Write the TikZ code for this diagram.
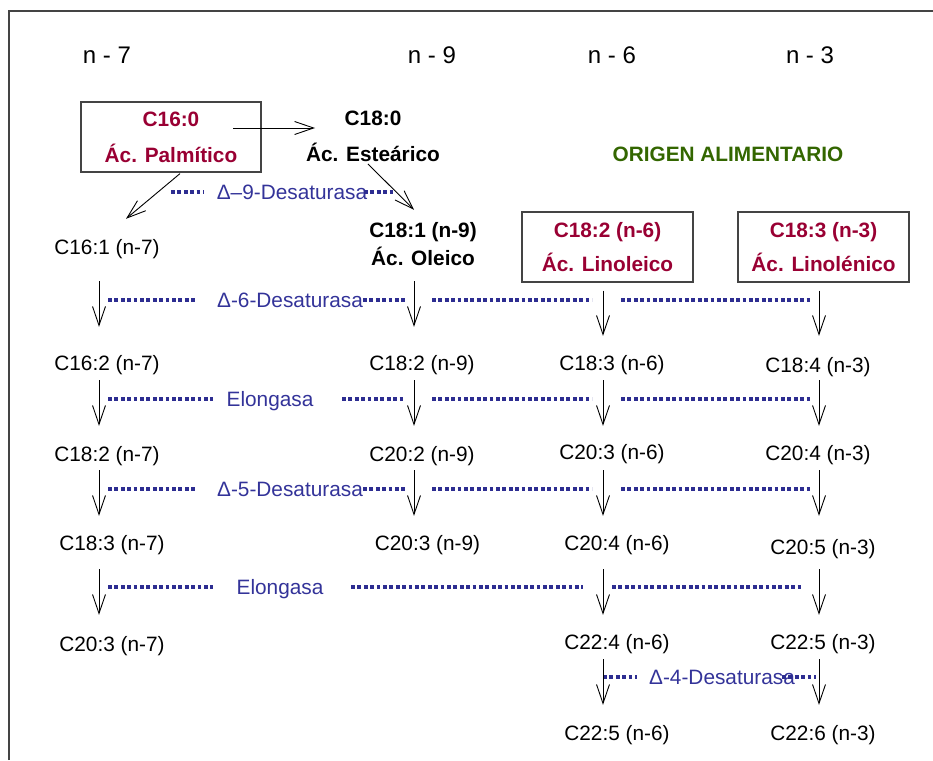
\documentclass[tikz,border=0pt]{standalone}
\usepackage{fontspec}
\setmainfont{Liberation Sans}
\usetikzlibrary{arrows.meta,calc}
\definecolor{acid}{RGB}{153,0,51}
\definecolor{origin}{RGB}{51,102,0}
\definecolor{enzyme}{RGB}{51,51,153}
\definecolor{dotblue}{RGB}{45,45,145}
\definecolor{framegray}{RGB}{68,68,68}

\begin{document}
\begin{tikzpicture}[x=1pt,y=-1pt,
  every node/.style={inner sep=0pt, font=\fontsize{20.8pt}{25pt}\selectfont},
  fa/.style={anchor=base, text height=15pt, text depth=4.5pt},
  hdr/.style={anchor=base, font=\fontsize{24pt}{28pt}\selectfont},
  enz/.style={anchor=base, text=enzyme},
  pair/.style={align=center, font=\fontsize{20.8pt}{#1}\selectfont\bfseries},
  srcbox/.style={draw=framegray, line width=1.2pt, align=center, text=acid,
    minimum height=70pt, font=\fontsize{20.8pt}{#1}\selectfont\bfseries},
  flow/.style={line width=0.9pt, -{Straight Barb[length=19pt,width=13pt]}},
  dots/.style={dotblue, line width=3.3pt, dash pattern=on 3.8pt off 2.6pt},
]
\useasboundingbox (0,0) rectangle (933,760);

% frame
\draw[framegray, line width=1.2pt] (9,760) -- (9,11) -- (933,11);

% column headers
\node[hdr] (n7) at (107,63.6) {n - 7};
\node[hdr] (n9) at (432,63.6) {n - 9};
\node[hdr] (n6) at (612,63.6) {n - 6};
\node[hdr] (n3) at (810,63.6) {n - 3};

% arrow columns
\coordinate (xA) at (99,0);
\coordinate (xB) at (414,0);
\coordinate (xC) at (603,0);
\coordinate (xD) at (819,0);

% starting acids
\node[srcbox=36pt, minimum width=180pt] (p160) at (171,137) {C16:0\\Ác. Palmítico};
\node[pair=36pt] (s180) at (373,136) {C18:0\\Ác. Esteárico};
\node[anchor=base, text=origin, font=\fontsize{20.8pt}{25pt}\selectfont\bfseries] (orig) at (728,161.4) {ORIGEN ALIMENTARIO};
\node[fa] (c161) at (107,254.4) {C16:1 (n-7)};
\node[pair=28pt] (o181) at (423,243.8) {C18:1 (n-9)\\Ác. Oleico};
\node[srcbox=34pt, minimum width=171pt] (l182) at (607.5,247) {C18:2 (n-6)\\Ác. Linoleico};
\node[srcbox=34pt, minimum width=171pt] (l183) at (823.5,247) {C18:3 (n-3)\\Ác. Linolénico};

% row 2
\node[fa] (c162) at (107,370.4) {C16:2 (n-7)};
\node[fa] (c182n9) at (422,370.4) {C18:2 (n-9)};
\node[fa] (c183n6) at (612,370.4) {C18:3 (n-6)};
\node[fa] (c184n3) at (818,372.4) {C18:4 (n-3)};
% row 3
\node[fa] (c182n7) at (107,461.4) {C18:2 (n-7)};
\node[fa] (c202n9) at (422,461.4) {C20:2 (n-9)};
\node[fa] (c203n6) at (612,459.4) {C20:3 (n-6)};
\node[fa] (c204n3) at (818,460.4) {C20:4 (n-3)};
% row 4
\node[fa] (c183n7) at (112,550.4) {C18:3 (n-7)};
\node[fa] (c203n9) at (427.5,550.4) {C20:3 (n-9)};
\node[fa] (c204n6) at (617,550.4) {C20:4 (n-6)};
\node[fa] (c205n3) at (823,554.4) {C20:5 (n-3)};
% row 5
\node[fa] (c203n7) at (112,651.4) {C20:3 (n-7)};
\node[fa] (c224n6) at (617,649.4) {C22:4 (n-6)};
\node[fa] (c225n3) at (823,649.4) {C22:5 (n-3)};
% row 6
\node[fa] (c225n6) at (617,740.4) {C22:5 (n-6)};
\node[fa] (c226n3) at (823,740.4) {C22:6 (n-3)};

% enzyme labels
\node[enz] (d9) at (292,199.4) {Δ–9-Desaturasa};
\node[enz] (d6) at (290,307.4) {Δ-6-Desaturasa};
\node[enz] (e1) at (270,406.4) {Elongasa};
\node[enz] (d5) at (290,496.4) {Δ-5-Desaturasa};
\node[enz] (e2) at (280,594.4) {Elongasa};
\node[enz] (d4) at (722,684.4) {Δ-4-Desaturasa};

% enzyme dotted lines
\draw[dots] (171,192) -- (204,192)  (364,192) -- (393,192);
\draw[dots] (108,300) -- (196,300)  (363,300) -- (405,300)
            (432,300) -- (592,300)  (621,300) -- (810,300);
\draw[dots] (108,399) -- (213,399)  (342,399) -- (405,399)
            (432,399) -- (592,399)  (621,399) -- (810,399);
\draw[dots] (108,489) -- (196,489)  (363,489) -- (405,489)
            (432,489) -- (592,489)  (621,489) -- (810,489);
\draw[dots] (108,587) -- (213,587)  (351,587) -- (583,587)
            (612,587) -- (802,587);
\draw[dots] (603,677) -- (637,677)  (782,677) -- (816,677);

% elongation and desaturation of palmitic / stearic acid
\draw[flow] ($(p160.center)+(62,-9)$) -- ($(s180.center)+(-58,-8)$);
\draw[flow] ($(p160.south)+(9,1)$) -- ($(c161.north)+(19,-20.4)$);
\draw[flow] ($(s180.south)+(-5,2.4)$) -- ($(o181.north)+(-9,-12.2)$);

% vertical steps
\draw[flow, shorten <=22pt, shorten >=28.4pt] (c161.south -| xA) -- (c162.north -| xA);
\draw[flow, shorten <=15.6pt, shorten >=28.4pt] (o181.south -| xB) -- (c182n9.north -| xB);
\draw[flow, shorten <=8pt, shorten >=19.4pt] (l182.south -| xC) -- (c183n6.north -| xC);
\draw[flow, shorten <=8pt, shorten >=21.4pt] (l183.south -| xD) -- (c184n3.north -| xD);

\draw[flow, shorten <=5.1pt, shorten >=20.4pt] (c162.south -| xA) -- (c182n7.north -| xA);
\draw[flow, shorten <=5.1pt, shorten >=20.4pt] (c182n9.south -| xB) -- (c202n9.north -| xB);
\draw[flow, shorten <=5.1pt, shorten >=18.4pt] (c183n6.south -| xC) -- (c203n6.north -| xC);
\draw[flow, shorten <=3.1pt, shorten >=19.4pt] (c184n3.south -| xD) -- (c204n3.north -| xD);

\draw[flow, shorten <=4.1pt, shorten >=19.4pt] (c182n7.south -| xA) -- (c183n7.north -| xA);
\draw[flow, shorten <=4.1pt, shorten >=19.4pt] (c202n9.south -| xB) -- (c203n9.north -| xB);
\draw[flow, shorten <=6.1pt, shorten >=19.4pt] (c203n6.south -| xC) -- (c204n6.north -| xC);
\draw[flow, shorten <=5.1pt, shorten >=23.4pt] (c204n3.south -| xD) -- (c205n3.north -| xD);

\draw[flow, shorten <=14.1pt, shorten >=21.4pt] (c183n7.south -| xA) -- (c203n7.north -| xA);
\draw[flow, shorten <=14.1pt, shorten >=19.4pt] (c204n6.south -| xC) -- (c224n6.north -| xC);
\draw[flow, shorten <=10.1pt, shorten >=19.4pt] (c205n3.south -| xD) -- (c225n3.north -| xD);

\draw[flow, shorten <=5.1pt, shorten >=20.4pt] (c224n6.south -| xC) -- (c225n6.north -| xC);
\draw[flow, shorten <=5.1pt, shorten >=20.4pt] (c225n3.south -| xD) -- (c226n3.north -| xD);
\end{tikzpicture}
\end{document}
